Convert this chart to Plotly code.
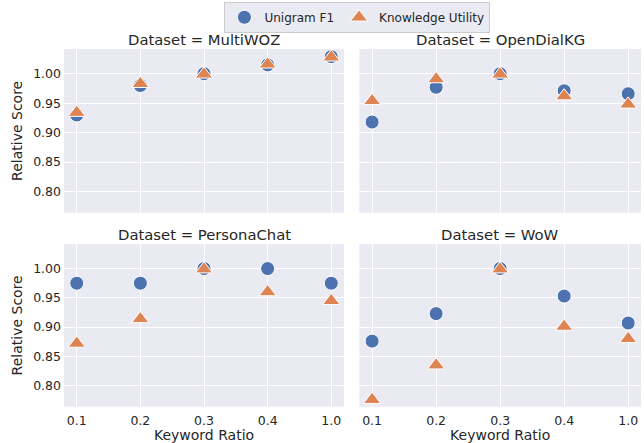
import plotly.graph_objects as go

# ---- data ----
ratios = ["0.1", "0.2", "0.3", "0.4", "1.0"]
datasets = ["MultiWOZ", "OpenDialKG", "PersonaChat", "WoW"]

multiwoz_f1 = [0.930, 0.980, 1.000, 1.015, 1.029]
multiwoz_ku = [0.934, 0.983, 0.999, 1.016, 1.028]
opendialkg_f1 = [0.918, 0.977, 1.000, 0.971, 0.966]
opendialkg_ku = [0.954, 0.991, 0.999, 0.962, 0.948]
personachat_f1 = [0.975, 0.975, 1.000, 1.000, 0.975]
personachat_ku = [0.872, 0.914, 0.999, 0.960, 0.945]
wow_f1 = [0.876, 0.923, 1.000, 0.953, 0.907]
wow_ku = [0.776, 0.835, 0.999, 0.901, 0.880]

f1_series = [multiwoz_f1, opendialkg_f1, personachat_f1, wow_f1]
ku_series = [multiwoz_ku, opendialkg_ku, personachat_ku, wow_ku]

y_ticks = [0.80, 0.85, 0.90, 0.95, 1.00]

# ---- style ----
BLUE = "#4C72B0"
ORANGE = "#DD8452"
BG = "#EAEAF2"
TXT = "#262626"
FONT = "DejaVu Sans"
W, H = 644, 443

# panel pixel boxes (left, top, right, bottom)
boxes = [
    (64, 49, 344, 212.7),
    (359.3, 49, 641, 212.7),
    (64, 244, 344, 406.7),
    (359.3, 244, 641, 406.7),
]

fig = go.Figure()
layout = {}
annotations = []
for i, (name, f1, ku) in enumerate(zip(datasets, f1_series, ku_series)):
    l, t, r, b = boxes[i]
    xd = [l / W, r / W]
    yd = [1 - b / H, 1 - t / H]
    sfx = "" if i == 0 else str(i + 1)
    xa, ya = "xaxis" + sfx, "yaxis" + sfx
    row, col = divmod(i, 2)
    layout[xa] = dict(
        domain=xd, anchor="y" + sfx, type="category",
        categoryorder="array", categoryarray=ratios,
        range=[-0.2, 4.2], showgrid=True, gridcolor="white", gridwidth=1.2,
        zeroline=False, showline=False, ticks="", automargin=False,
        showticklabels=(row == 1), ticklabelstandoff=5,
        tickfont=dict(family=FONT, size=12.5, color=TXT),
        title=dict(text="Keyword Ratio" if row == 1 else "",
                   font=dict(family=FONT, size=14, color=TXT), standoff=4),
        fixedrange=True,
    )
    layout[ya] = dict(
        domain=yd, anchor="x" + sfx, range=[0.764, 1.042],
        tickvals=y_ticks, tickformat=".2f",
        showgrid=True, gridcolor="white", gridwidth=1.2,
        zeroline=False, showline=False, ticks="", automargin=False,
        showticklabels=(col == 0), ticklabelstandoff=2,
        tickfont=dict(family=FONT, size=12.5, color=TXT),
        title=dict(text="Relative Score" if col == 0 else "",
                   font=dict(family=FONT, size=14, color=TXT), standoff=7),
        fixedrange=True,
    )
    fig.add_trace(go.Scatter(
        x=ratios, y=f1, mode="markers", name="Unigram F1",
        legendgroup="f1", showlegend=(i == 0),
        marker=dict(symbol="circle", size=14, color=BLUE,
                    line=dict(color="white", width=1)),
        xaxis="x" + sfx, yaxis="y" + sfx,
    ))
    fig.add_trace(go.Scatter(
        x=ratios, y=ku, mode="markers", name="Knowledge Utility",
        legendgroup="ku", showlegend=(i == 0),
        marker=dict(symbol="triangle-up", size=15, color=ORANGE,
                    line=dict(color="white", width=1)),
        xaxis="x" + sfx, yaxis="y" + sfx,
    ))
    annotations.append(dict(
        text=f"Dataset = {name}", xref="paper", yref="paper",
        x=(xd[0] + xd[1]) / 2, y=yd[1], xanchor="center", yanchor="bottom",
        yshift=-1, showarrow=False,
        font=dict(family=FONT, size=14.8, color=TXT),
    ))

fig.update_layout(
    template="none",
    width=W, height=H,
    margin=dict(l=0, r=0, t=0, b=0, autoexpand=False),
    paper_bgcolor="white", plot_bgcolor=BG,
    font=dict(family=FONT, color=TXT),
    annotations=annotations,
    legend=dict(
        orientation="h", x=0.555, y=0.996, xanchor="center", yanchor="top",
        bgcolor=BG, bordercolor="#cccccc", borderwidth=1,
        font=dict(family=FONT, size=12, color=TXT),
        itemwidth=30, tracegroupgap=0,
    ),
    **layout,
)

fig.write_html("out.html",
               config={"displayModeBar": False},
               post_script="document.body.style.margin='0';document.body.style.overflow='hidden';")
